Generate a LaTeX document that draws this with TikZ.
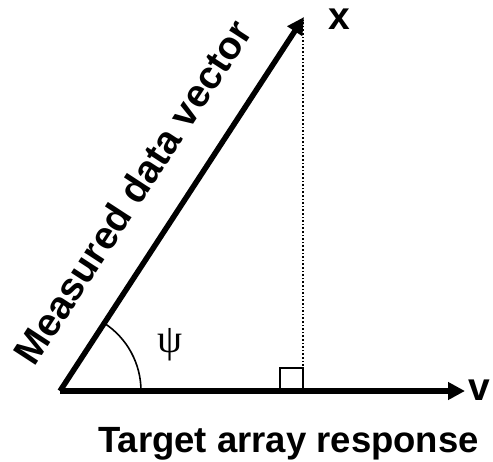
\documentclass[tikz,border=0pt]{standalone}
\usepackage{fontspec}
\setmainfont{Liberation Sans}
\newfontfamily\greekfont{Liberation Serif}
\usetikzlibrary{arrows.meta,calc}
\tikzset{
  vec/.style={line width=5.5pt,-{Triangle[length=17pt,width=17pt]}},
  lbl/.style={font=\bfseries\fontsize{39}{41}\selectfont,inner sep=0pt},
  thinline/.style={line width=1.6pt},
}
\begin{document}
\begin{tikzpicture}[x=1pt,y=-1pt]
\useasboundingbox (0,0) rectangle (493,461);
\coordinate (O) at (60,391);
\coordinate (X) at (304,17);
\coordinate (V) at (465,391);
\coordinate (F) at (303,391);
\coordinate (Q) at (280,368);
% angle arc
\draw[thinline] ($(O)+(81,0)$) arc[start angle=0,end angle=-56.9,radius=81];
% dotted perpendicular
\draw[thinline,dotted] (F) -- (303,20);
% right-angle square
\draw[thinline] (F) rectangle (Q);
% vectors
\draw[vec] (O) -- (V);
\draw[vec] (O) -- (X);
% labels
\node[lbl,rotate=56.9,anchor=base] (mdv) at ($(O)!206pt!(X)+(-28.5,-18.6)$) {Measured data vector};
\node[lbl] (xl) at (339,19) {x};
\node[lbl] (vl) at (479,390) {v};
\node[font=\greekfont\fontsize{40}{42}\selectfont,inner sep=0pt] (psi) at (170,345) {ψ};
\node[font=\bfseries\fontsize{36.5}{38}\selectfont,inner sep=0pt,anchor=base] (tar) at (288.5,452) {Target array response};
\end{tikzpicture}
\end{document}
